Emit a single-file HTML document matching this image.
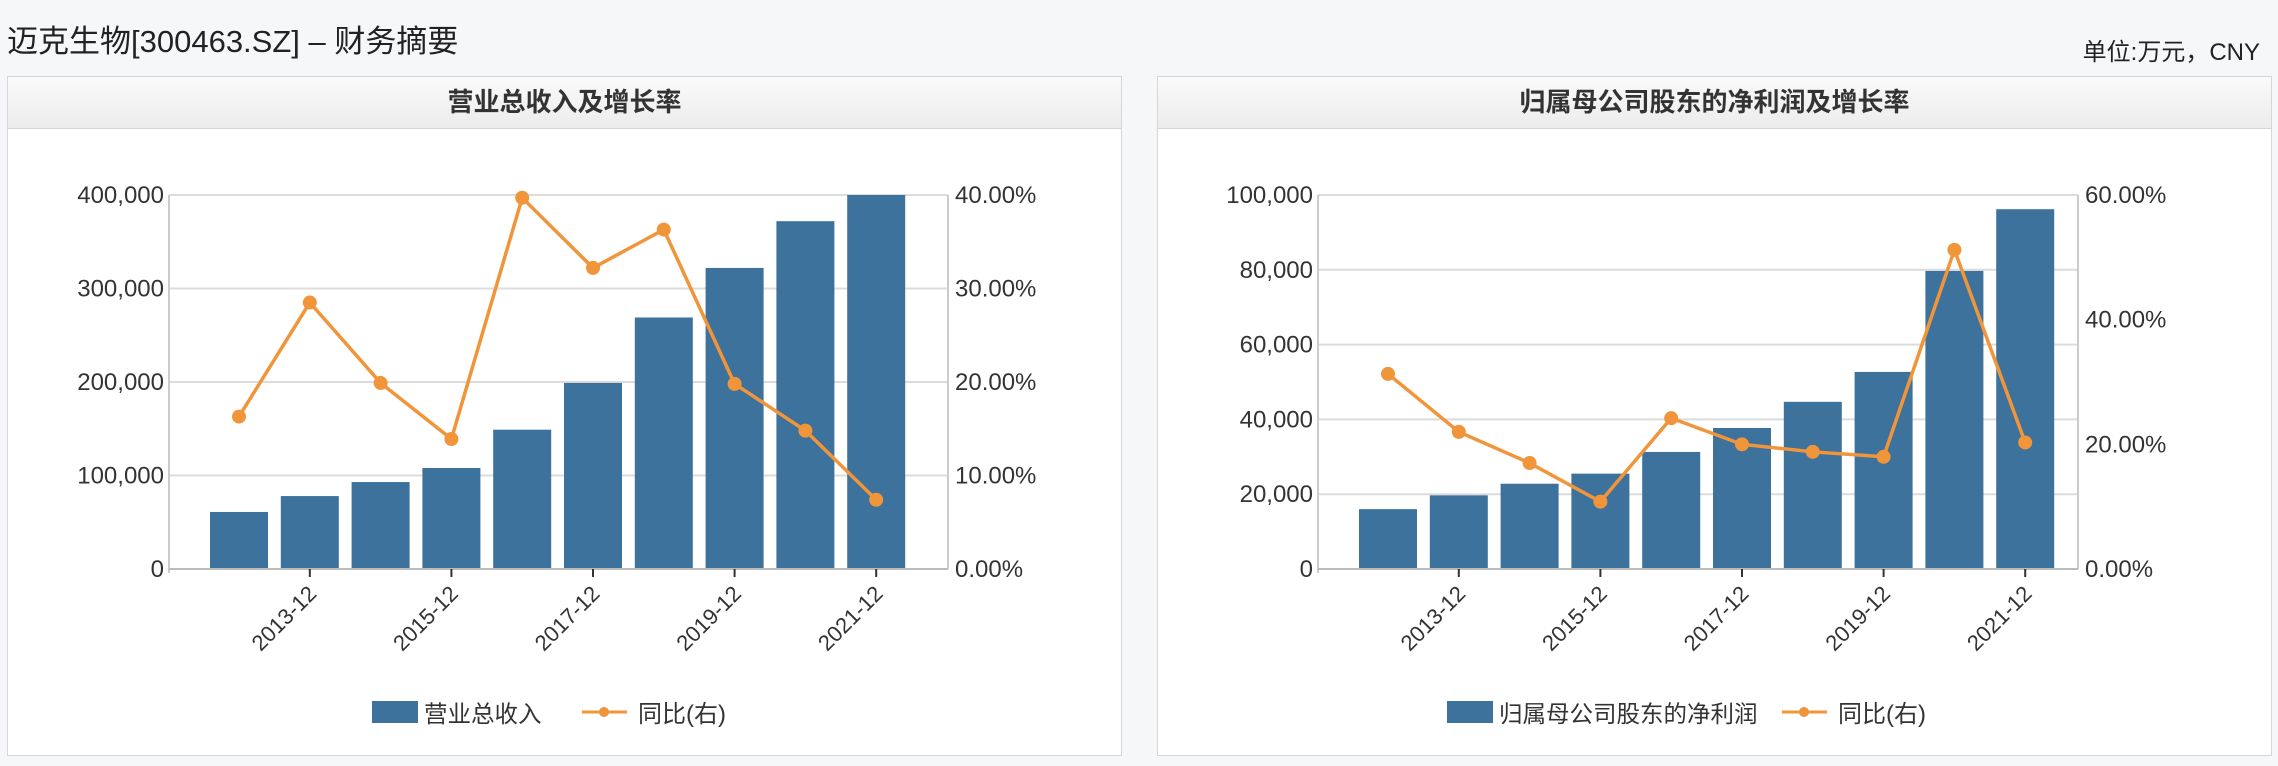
<!DOCTYPE html>
<html><head><meta charset="utf-8">
<style>
body{margin:0;width:2278px;height:766px;background:#f6f7f9;font-family:"Liberation Sans","Noto Sans CJK SC",sans-serif;overflow:hidden;position:relative}
.title{position:absolute;left:7px;top:16px;font-size:31px;color:#222}
.unit{position:absolute;right:18px;top:32px;font-size:24px;color:#222}
.panel{position:absolute;top:76px;width:1113px;height:678px;background:#fff;border:1px solid #d6d6d6}
.head{height:51px;border-bottom:1px solid #d6d6d6;background:linear-gradient(#fafafa,#ececec);text-align:center;line-height:51px;font-size:26px;font-weight:bold;color:#333}
svg{position:absolute;left:0;top:0}
</style></head><body>
<div class="title">迈克生物[300463.SZ] – 财务摘要</div>
<div class="unit">单位:万元，CNY</div>
<div class="panel" style="left:7px"><div class="head">营业总收入及增长率</div></div>
<div class="panel" style="left:1157px"><div class="head">归属母公司股东的净利润及增长率</div></div>
<svg id="svg" width="2278" height="766"></svg>
<script>
const years=["2012-12","2013-12","2014-12","2015-12","2016-12","2017-12","2018-12","2019-12","2020-12","2021-12"];
const revenue=[61000,78000,93000,108000,149000,199000,269000,322000,372000,400000];
const revenueYoy=[16.3,28.5,19.9,13.9,39.7,32.2,36.3,19.8,14.8,7.4];
const revTicks=[0,100000,200000,300000,400000];
const revPctTicks=[0,10,20,30,40];
const profit=[16000,19700,22800,25500,31300,37700,44700,52700,79700,96200];
const profitYoy=[31.3,22.0,17.0,10.8,24.2,20.0,18.8,18.0,51.2,20.3];
const profTicks=[0,20000,40000,60000,80000,100000];
const profPctTicks=[0,20,40,60];
const NS="http://www.w3.org/2000/svg";
const svg=document.getElementById('svg');
function mk(t,a,p){const e=document.createElementNS(NS,t);for(const k in a)e.setAttribute(k,a[k]);(p||svg).appendChild(e);return e;}
const fmt=v=>v.toLocaleString('en-US');
function chart(o){
  const g=mk('g',{});
  
  
  const x0=o.x0,x1=o.x1,yT=195,yB=569;
  const lmax=o.lt[o.lt.length-1],rmax=o.rt[o.rt.length-1];
  const yl=v=>yB-(v/lmax)*(yB-yT), yr=v=>yB-(v/rmax)*(yB-yT);
  const step=70.8, xc=i=>x0+70+step*i;
  o.lt.forEach((t,i)=>{
    if(i>0){const l=mk('line',{x1:x0,x2:x1,y1:yl(t),y2:yl(t),stroke:'#dcdcdc','stroke-width':2},g);}
    const tx=mk('text',{x:x0-5,y:yl(t)+8,'text-anchor':'end','font-size':24,fill:'#333'},g);tx.textContent=fmt(t);
    
  });
  o.rt.forEach(t=>{
    const tx=mk('text',{x:x1+7,y:yr(t)+8,'font-size':24,fill:'#333'},g);tx.textContent=t.toFixed(2)+'%';
    
  });
  o.bars.forEach((v,i)=>{
    const r=mk('rect',{x:xc(i)-29,y:yl(v),width:58,height:yB-yl(v),fill:'#3d729c'},g);
    
  });
  mk('line',{x1:x0,x2:x0,y1:yT,y2:yB+4,stroke:'#ccc','stroke-width':2},g);
  mk('line',{x1:x1,x2:x1,y1:yT,y2:yB,stroke:'#ccc','stroke-width':2},g);
  mk('line',{x1:x0,x2:x1,y1:yB,y2:yB,stroke:'#bbb','stroke-width':2},g);
  years.forEach((y,i)=>{ if(i%2===1){
    mk('line',{x1:xc(i),x2:xc(i),y1:yB,y2:yB+8,stroke:'#333','stroke-width':2},g);
    const tx=mk('text',{x:xc(i)+8,y:yB+26,'text-anchor':'end','font-size':22,fill:'#333',transform:`rotate(-45 ${xc(i)+8} ${yB+26})`},g);
    tx.textContent=y;
  }});
  const pts=o.line.map((v,i)=>xc(i)+','+yr(v)).join(' ');
  const pl=mk('polyline',{points:pts,fill:'none',stroke:'#f0953a','stroke-width':3.5},g);
  
  o.line.forEach((v,i)=>{const c=mk('circle',{cx:xc(i),cy:yr(v),r:7,fill:'#f0953a'},g);
    });
  const lg=mk('g',{},g);
  mk('rect',{x:o.lx,y:701,width:46,height:22,fill:'#3d729c'},lg);
  const t1=mk('text',{x:o.lx+52,y:722,'font-size':23.5,fill:'#333'},lg);t1.textContent=o.label;
  mk('line',{x1:o.lx2,x2:o.lx2+45,y1:712,y2:712,stroke:'#f0953a','stroke-width':3},lg);
  mk('circle',{cx:o.lx2+22,cy:712,r:5,fill:'#f0953a'},lg);
  const t2=mk('text',{x:o.lx2+56,y:722,'font-size':24,fill:'#333'},lg);t2.textContent='同比(右)';
}
chart({name:'revenue-chart',x0:169,x1:948,bars:revenue,line:revenueYoy,lt:revTicks,rt:revPctTicks,label:'营业总收入',lx:372,lx2:582});
chart({name:'profit-chart',x0:1318,x1:2078,bars:profit,line:profitYoy,lt:profTicks,rt:profPctTicks,label:'归属母公司股东的净利润',lx:1447,lx2:1782});
</script>
</body></html>
